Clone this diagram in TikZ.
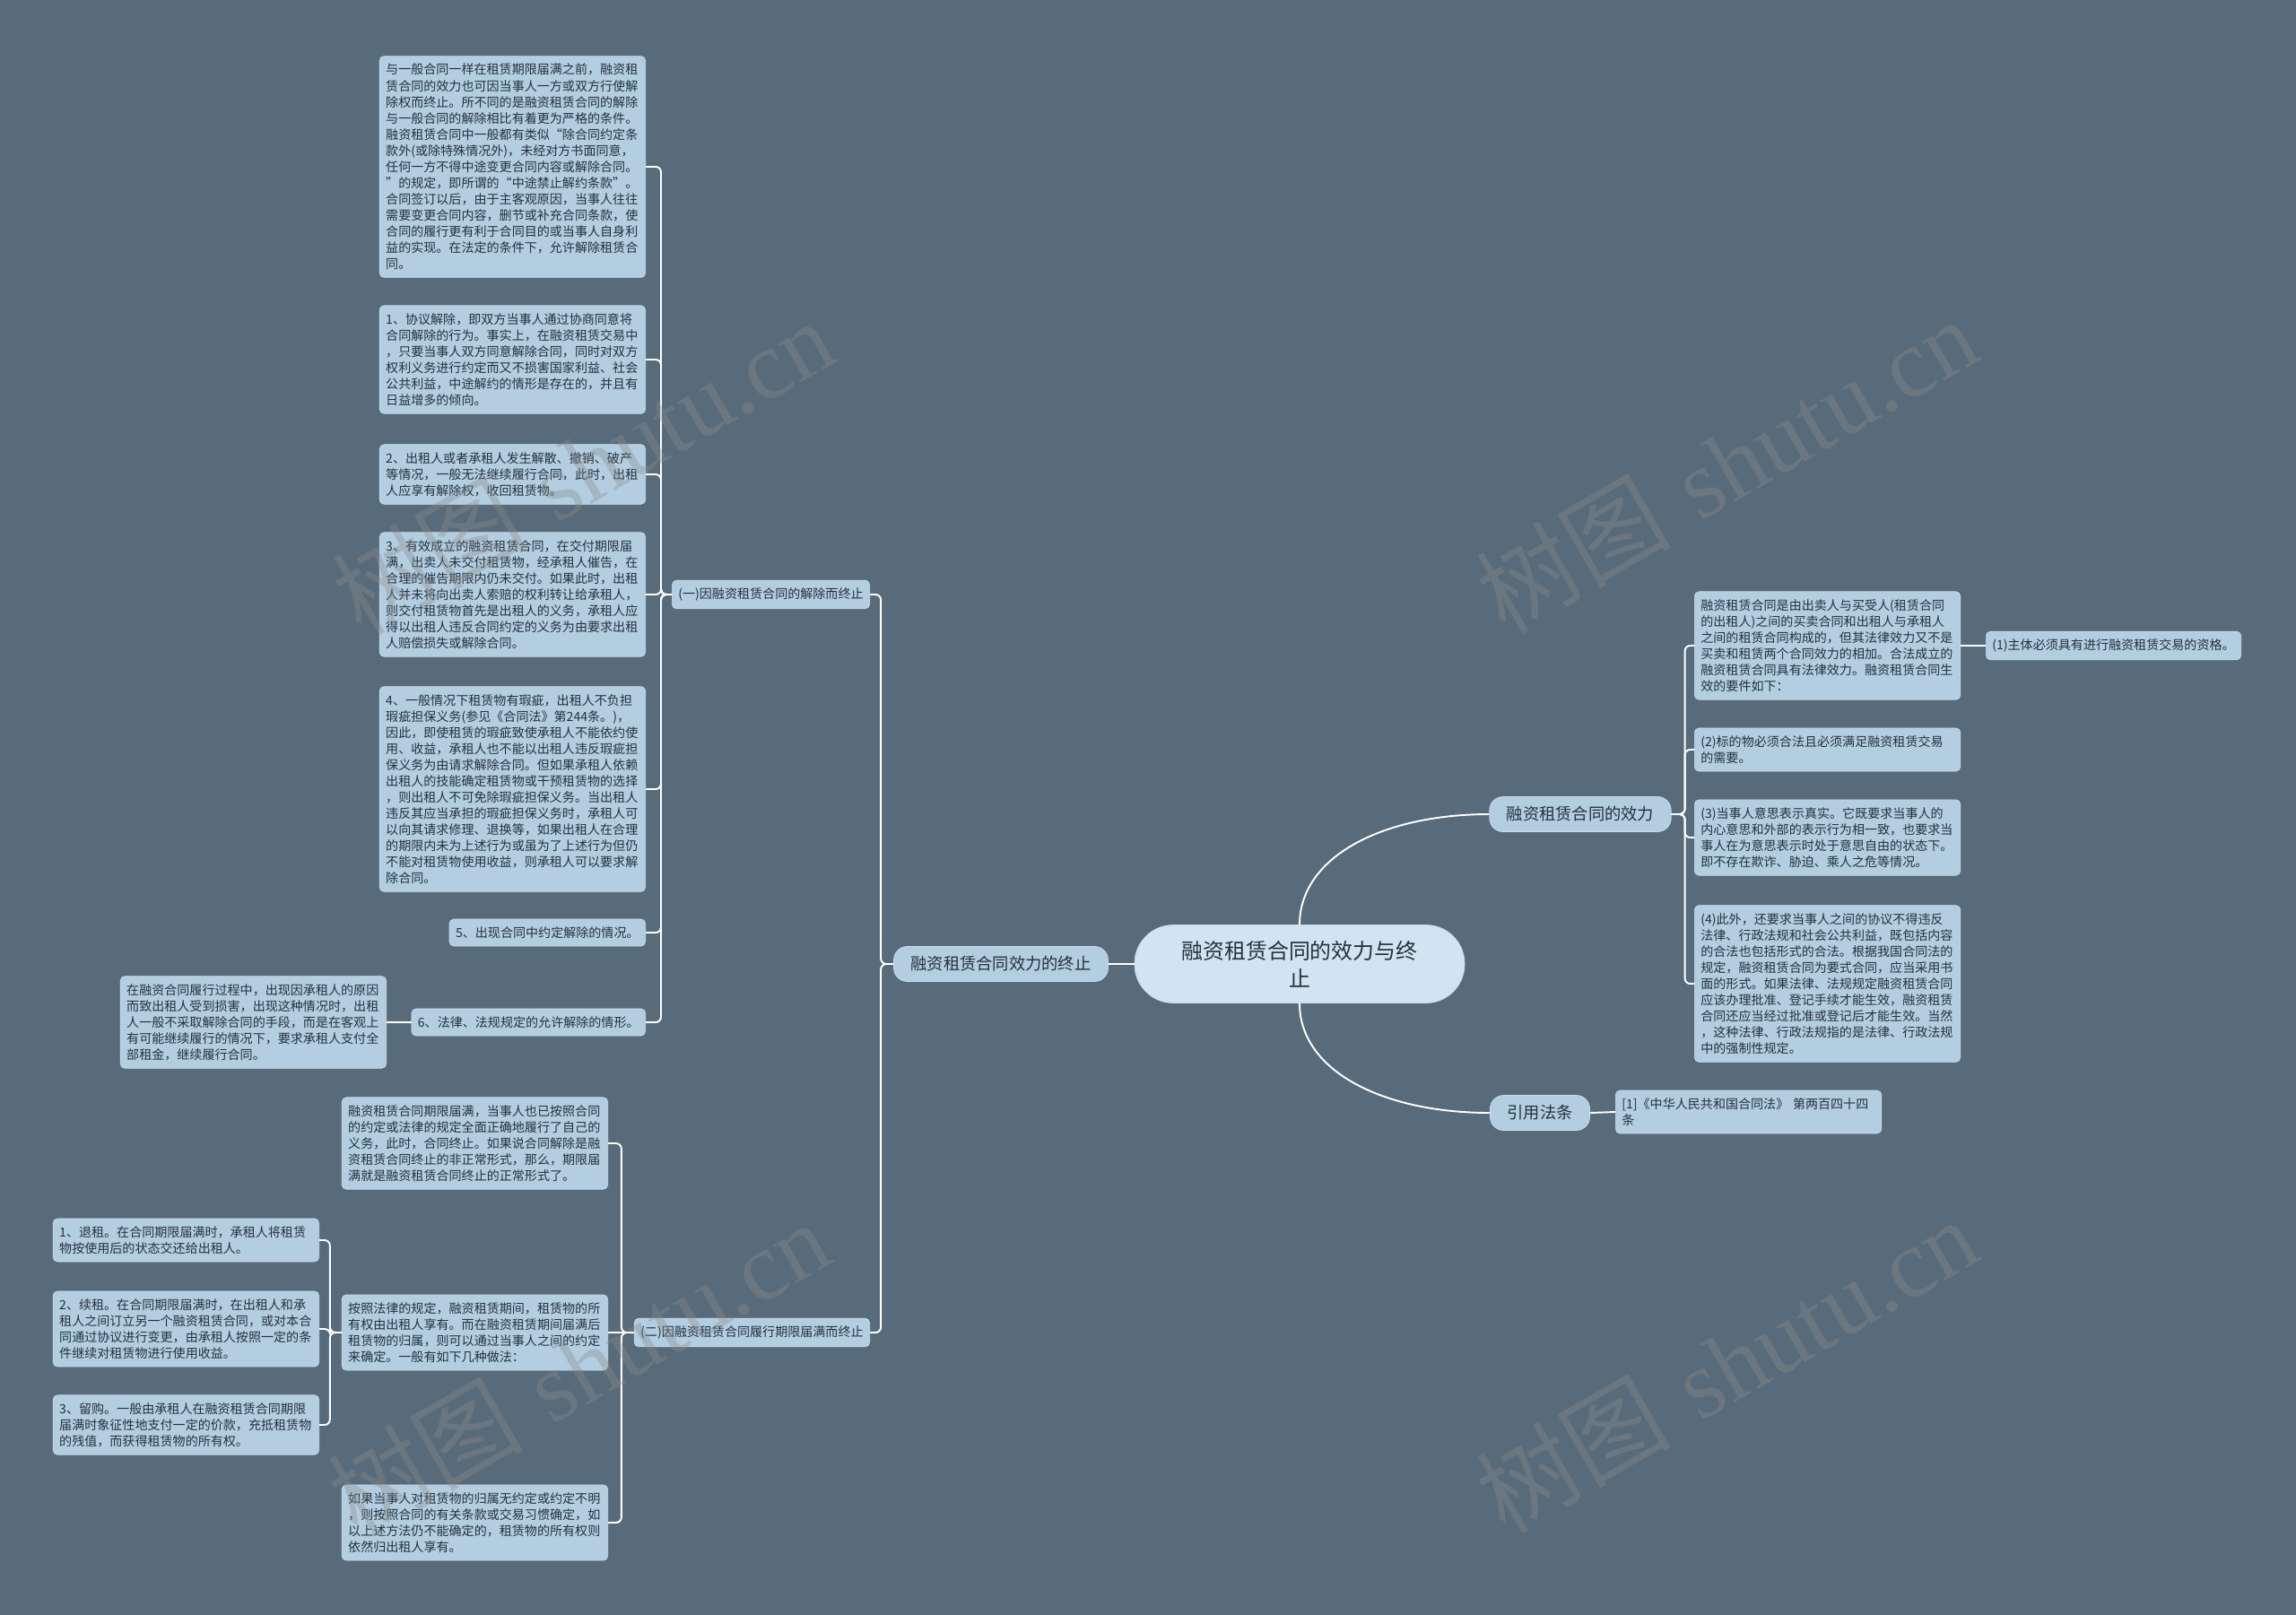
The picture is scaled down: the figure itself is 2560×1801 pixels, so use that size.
\documentclass[tikz,border=0pt]{standalone}
\usepackage{fontspec}
\newfontfamily\cjk{Noto Sans CJK SC}
\newfontfamily\wmserif{Liberation Serif}
\usepackage{xcolor}
\usepackage{tikz}
\usetikzlibrary{positioning, calc}

\definecolor{bgslate}{HTML}{586B7A}
\definecolor{leafblue}{HTML}{B3CDE1}
\definecolor{leafedge}{HTML}{CADCEB}
\definecolor{rootblue}{HTML}{D2E4F1}
\definecolor{ink}{HTML}{24323D}
\definecolor{wmgray}{HTML}{8C8C8C}

\begin{document}
\begin{tikzpicture}[x=0.02cm, y=-0.02cm,
    base/.style={draw=leafedge, line width=0.4pt, fill=leafblue, rounded corners=0.1cm,
      inner xsep=0.14cm, inner ysep=0.17cm, text=ink, font=\cjk\fontsize{8}{10.28}\selectfont},
    leaf/.style={base, text width=5.65cm, align=left},
    tag/.style={base},
    topic/.style={base, rounded corners=0.3cm, inner xsep=0.38cm, inner ysep=0.1cm,
      minimum height=0.78cm, font=\cjk\fontsize{10.4}{12}\selectfont},
    root/.style={base, fill=rootblue, rounded corners=0.86cm, minimum width=7.36cm,
      minimum height=1.74cm, text width=5.4cm, align=center, font=\cjk\fontsize{13.6}{17.6}\selectfont},
    link/.style={draw=white, line width=1.1pt, rounded corners=0.12cm},
    wmark/.style={rotate=30, text=wmgray, opacity=0.35, font=\fontsize{62}{62}\selectfont}]

    % Canvas
    \useasboundingbox (0,0) rectangle (2560,1801);
    \fill[bgslate] (0,0) rectangle (2560,1801);

    % Root and main branches
    \node[root] (root) at (1449,1075) {融资租赁合同的效力与终\\止};
    \node[topic] (valid) at (1762,908) {融资租赁合同的效力};
    \node[topic] (law) at (1717,1241) {引用法条};
    \node[topic] (end) at (1116,1075) {融资租赁合同效力的终止};

    % Termination by rescission
    \node[tag, anchor=east] (cancel) at (970,663) {(一)因融资租赁合同的解除而终止};
    \node[leaf, anchor=east] (a0) at (720,186) {与一般合同一样在租赁期限届满之前，融资租\\赁合同的效力也可因当事人一方或双方行使解\\除权而终止。所不同的是融资租赁合同的解除\\与一般合同的解除相比有着更为严格的条件。\\融资租赁合同中一般都有类似“除合同约定条\\款外(或除特殊情况外)，未经对方书面同意，\\任何一方不得中途变更合同内容或解除合同。\\”的规定，即所谓的“中途禁止解约条款”。\\合同签订以后，由于主客观原因，当事人往往\\需要变更合同内容，删节或补充合同条款，使\\合同的履行更有利于合同目的或当事人自身利\\益的实现。在法定的条件下，允许解除租赁合\\同。};
    \node[leaf, anchor=east] (a1) at (720,401) {1、协议解除，即双方当事人通过协商同意将\\合同解除的行为。事实上，在融资租赁交易中\\，只要当事人双方同意解除合同，同时对双方\\权利义务进行约定而又不损害国家利益、社会\\公共利益，中途解约的情形是存在的，并且有\\日益增多的倾向。};
    \node[leaf, anchor=east] (a2) at (720,529) {2、出租人或者承租人发生解散、撤销、破产\\等情况，一般无法继续履行合同，此时，出租\\人应享有解除权，收回租赁物。};
    \node[leaf, anchor=east] (a3) at (720,663) {3、有效成立的融资租赁合同，在交付期限届\\满，出卖人未交付租赁物，经承租人催告，在\\合理的催告期限内仍未交付。如果此时，出租\\人并未将向出卖人索赔的权利转让给承租人，\\则交付租赁物首先是出租人的义务，承租人应\\得以出租人违反合同约定的义务为由要求出租\\人赔偿损失或解除合同。};
    \node[leaf, anchor=east] (a4) at (720,880) {4、一般情况下租赁物有瑕疵，出租人不负担\\瑕疵担保义务(参见《合同法》第244条。)，\\因此，即使租赁的瑕疵致使承租人不能依约使\\用、收益，承租人也不能以出租人违反瑕疵担\\保义务为由请求解除合同。但如果承租人依赖\\出租人的技能确定租赁物或干预租赁物的选择\\，则出租人不可免除瑕疵担保义务。当出租人\\违反其应当承担的瑕疵担保义务时，承租人可\\以向其请求修理、退换等，如果出租人在合理\\的期限内未为上述行为或虽为了上述行为但仍\\不能对租赁物使用收益，则承租人可以要求解\\除合同。};
    \node[tag, anchor=east] (a5) at (720,1040) {5、出现合同中约定解除的情况。};
    \node[tag, anchor=east] (a6) at (720,1140) {6、法律、法规规定的允许解除的情形。};
    \node[leaf, anchor=east] (a6s) at (431,1140) {在融资合同履行过程中，出现因承租人的原因\\而致出租人受到损害，出现这种情况时，出租\\人一般不采取解除合同的手段，而是在客观上\\有可能继续履行的情况下，要求承租人支付全\\部租金，继续履行合同。};

    % Termination at expiry
    \node[tag, anchor=east] (expire) at (970,1486) {(二)因融资租赁合同履行期限届满而终止};
    \node[leaf, anchor=east] (e1) at (678,1275) {融资租赁合同期限届满，当事人也已按照合同\\的约定或法律的规定全面正确地履行了自己的\\义务，此时，合同终止。如果说合同解除是融\\资租赁合同终止的非正常形式，那么，期限届\\满就是融资租赁合同终止的正常形式了。};
    \node[leaf, anchor=east] (e2) at (678,1486) {按照法律的规定，融资租赁期间，租赁物的所\\有权由出租人享有。而在融资租赁期间届满后\\租赁物的归属，则可以通过当事人之间的约定\\来确定。一般有如下几种做法：};
    \node[leaf, anchor=east] (e3) at (678,1698) {如果当事人对租赁物的归属无约定或约定不明\\，则按照合同的有关条款或交易习惯确定，如\\以上述方法仍不能确定的，租赁物的所有权则\\依然归出租人享有。};
    \node[leaf, anchor=east] (f1) at (356,1383) {1、退租。在合同期限届满时，承租人将租赁\\物按使用后的状态交还给出租人。};
    \node[leaf, anchor=east] (f2) at (356,1482) {2、续租。在合同期限届满时，在出租人和承\\租人之间订立另一个融资租赁合同，或对本合\\同通过协议进行变更，由承租人按照一定的条\\件继续对租赁物进行使用收益。};
    \node[leaf, anchor=east] (f3) at (356,1589) {3、留购。一般由承租人在融资租赁合同期限\\届满时象征性地支付一定的价款，充抵租赁物\\的残值，而获得租赁物的所有权。};

    % Validity
    \node[leaf, anchor=west] (v1) at (1889,720) {融资租赁合同是由出卖人与买受人(租赁合同\\的出租人)之间的买卖合同和出租人与承租人\\之间的租赁合同构成的，但其法律效力又不是\\买卖和租赁两个合同效力的相加。合法成立的\\融资租赁合同具有法律效力。融资租赁合同生\\效的要件如下：};
    \node[tag, anchor=west] (v1s) at (2214,720) {(1)主体必须具有进行融资租赁交易的资格。};
    \node[leaf, anchor=west] (v2) at (1889,836) {(2)标的物必须合法且必须满足融资租赁交易\\的需要。};
    \node[leaf, anchor=west] (v3) at (1889,934) {(3)当事人意思表示真实。它既要求当事人的\\内心意思和外部的表示行为相一致，也要求当\\事人在为意思表示时处于意思自由的状态下。\\即不存在欺诈、胁迫、乘人之危等情况。};
    \node[leaf, anchor=west] (v4) at (1889,1097) {(4)此外，还要求当事人之间的协议不得违反\\法律、行政法规和社会公共利益，既包括内容\\的合法也包括形式的合法。根据我国合同法的\\规定，融资租赁合同为要式合同，应当采用书\\面的形式。如果法律、法规规定融资租赁合同\\应该办理批准、登记手续才能生效，融资租赁\\合同还应当经过批准或登记后才能生效。当然\\，这种法律、行政法规指的是法律、行政法规\\中的强制性规定。};

    % Cited law
    \node[leaf, anchor=west] (ref) at (1801,1240) {[1]《中华人民共和国合同法》 第两百四十四\\条};

    % Connectors from the root
    \draw[link] (root.west) -- (end.east);
    \draw[link] (root.north) .. controls ($(root.north)+(0,-75)$) and ($(valid.west)+(-120,0)$) .. (valid.west);
    \draw[link] (root.south) .. controls ($(root.south)+(0,75)$) and ($(law.west)+(-120,0)$) .. (law.west);

    % Left branches
    \draw[link] (end.west) -- ++(-14,0) |- (cancel.east);
    \draw[link] (end.west) -- ++(-14,0) |- (expire.east);
    \foreach \n in {a0,a1,a2,a3,a4,a5,a6}
        \draw[link] (cancel.west) -- ++(-12,0) |- (\n.east);
    \draw[link] (a6.west) -- (a6s.east);
    \draw[link] (expire.west) -- (e2.east);
    \foreach \n in {e1,e3}
        \draw[link] (expire.west) -- ++(-14,0) |- (\n.east);
    \foreach \n in {f1,f2,f3}
        \draw[link] (e2.west) -- ++(-13,0) |- (\n.east);

    % Right branches
    \foreach \n in {v1,v2,v3,v4}
        \draw[link] (valid.east) -- ++(15,0) |- (\n.west);
    \draw[link] (v1.east) -- (v1s.west);
    \draw[link] (law.east) -- (ref.west);

    % Watermarks
    \foreach \p in {(650,520),(1925,518),(645,1525),(1925,1522)}
        \node[wmark] at \p {{\cjk 树图} {\wmserif shutu.cn}};
\end{tikzpicture}
\end{document}
